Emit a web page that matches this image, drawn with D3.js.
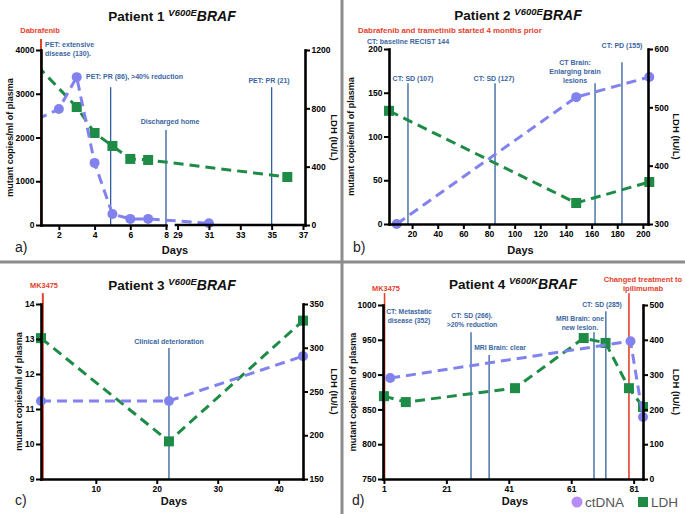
<!DOCTYPE html>
<html><head><meta charset="utf-8">
<script src="https://cdn.jsdelivr.net/npm/d3@7"></script>
<style>
body{margin:0;background:#fff;}
svg{display:block;}
</style></head><body>
<svg id="c" width="685" height="514"></svg>
<script>
// ---------------- DATA ----------------
const seriesNames = ["ctDNA", "LDH"];
const axisTitles = ["mutant copies/ml of plasma", "LDH (IU/L)", "Days"];

// Patient 1 (V600E)
const p1CtDays  = [0.8, 2, 3, 4, 5, 6, 7, 31];
const p1CtVals  = [2420, 2650, 3380, 1420, 250, 140, 140, 40];
const p1LdhDays = [0.8, 3, 4, 5, 6, 7, 36];
const p1LdhVals = [1090, 809, 631, 542, 453, 446, 329];
const p1XTicks  = [2, 4, 6, 8, 29, 31, 33, 35, 37];
const p1YTicks  = [0, 1000, 2000, 3000, 4000];
const p1RTicks  = [0, 400, 800, 1200];
const p1EventDays = [4.9, 8, 35];
const p1EventTops = [3150, 2170, 3150];
const p1TherapyDays = [1];
const p1TherapyTops = [4250];

// Patient 2 (V600E)
const p2CtDays  = [8, 148, 205];
const p2CtVals  = [0, 145, 168];
const p2LdhDays = [2, 148, 205];
const p2LdhVals = [494, 336, 372];
const p2XTicks  = [20, 40, 60, 80, 100, 120, 140, 160, 180, 200];
const p2YTicks  = [0, 50, 100, 150, 200];
const p2RTicks  = [300, 400, 500, 600];
const p2EventDays = [16.8, 84.7, 162.7, 183.7];
const p2EventTops = [161, 161, 161, 185];

// Patient 3 (V600E)
const p3CtDays  = [1, 22, 44];
const p3CtVals  = [11.23, 11.23, 12.51];
const p3LdhDays = [1, 22, 44];
const p3LdhVals = [311, 193, 331];
const p3XTicks  = [10, 20, 30, 40];
const p3YTicks  = [9, 10, 11, 12, 13, 14];
const p3RTicks  = [150, 200, 250, 300, 350];
const p3EventDays = [22];
const p3EventTops = [12.74];
const p3TherapyDays = [1.3];
const p3TherapyTops = [14.31];

// Patient 4 (V600K)
const p4CtDays  = [3, 80, 84];
const p4CtVals  = [895, 948, 839];
const p4LdhDays = [1, 8, 43, 65, 72, 79.5, 84];
const p4LdhVals = [238, 221, 261, 405, 391, 261, 207];
const p4XTicks  = [1, 21, 41, 61, 81];
const p4YTicks  = [750, 800, 850, 900, 950, 1000];
const p4RTicks  = [0, 100, 200, 300, 400, 500];
const p4EventDays = [28.9, 34.7, 68.3, 72.1];
const p4EventTops = [961, 928, 961, 991];
const p4TherapyDays = [1.2, 79.5];
const p4TherapyTops = [1017, 1017];

// ---------------- STYLE ----------------
const FONT = "'Liberation Sans', Arial, Helvetica, sans-serif";
const C = {ct:"#8282ef", ctLegend:"#b58df5", ldh:"#1e8b47", ev:"#2f5f9c",
           evText:"#3a66a2", red:"#e4412b", sep:"#8c8c8c"};

const svg = d3.select("#c").attr("font-family", FONT);

// separators
svg.append("line").attr("x1",342).attr("x2",342).attr("y1",0).attr("y2",514)
   .attr("stroke",C.sep).attr("stroke-width",3);
svg.append("line").attr("x1",0).attr("x2",685).attr("y1",262).attr("y2",262)
   .attr("stroke",C.sep).attr("stroke-width",3);

// ---------------- HELPERS ----------------
function styleAxis(a){
  a.attr("font-family",FONT).attr("font-size",8.5).attr("font-weight","bold");
  a.select(".domain").attr("stroke","#000").attr("stroke-width",2.6).attr("stroke-linecap","square");
  a.selectAll(".tick line").attr("stroke","#000").attr("stroke-width",2);
  a.selectAll(".tick text").attr("fill","#000");
}
function axL(g, y, x, ticks){
  styleAxis(g.append("g").attr("transform",`translate(${x},0)`)
    .call(d3.axisLeft(y).tickValues(ticks).tickSize(5).tickSizeOuter(0).tickPadding(1.5).tickFormat(d3.format("d"))));
}
function axR(g, y, x, ticks){
  styleAxis(g.append("g").attr("transform",`translate(${x},0)`)
    .call(d3.axisRight(y).tickValues(ticks).tickSize(5).tickSizeOuter(0).tickPadding(1.5).tickFormat(d3.format("d"))));
}
function axB(g, x, y, ticks){
  styleAxis(g.append("g").attr("transform",`translate(0,${y})`)
    .call(d3.axisBottom(x).tickValues(ticks).tickSize(5).tickSizeOuter(0).tickPadding(2).tickFormat(d3.format("d"))));
}
function vlines(g, xf, yL, days, tops, y1, color, w){
  g.selectAll(null).data(days.map((d,i)=>[d,tops[i]])).join("line")
    .attr("x1",d=>xf(d[0])).attr("x2",d=>xf(d[0]))
    .attr("y1",d=>yL(d[1])).attr("y2",y1)
    .attr("stroke",color).attr("stroke-width",w);
}
function series(g, xf, y, days, vals, kind, minDay, clipId){
  const pts = days.map((d,i)=>({d, x:xf(d), y:y(vals[i])}));
  const col = kind==="ct" ? C.ct : C.ldh;
  const p = g.append("path").attr("d", d3.line().x(p=>p.x).y(p=>p.y)(pts))
    .attr("fill","none").attr("stroke",col).attr("stroke-width",3).attr("stroke-dasharray","10,6");
  if (clipId) p.attr("clip-path",`url(#${clipId})`);
  const vis = pts.filter(p=>p.d>=minDay);
  if (kind==="ct"){
    g.selectAll(null).data(vis).join("circle").attr("cx",p=>p.x).attr("cy",p=>p.y).attr("r",5).attr("fill",col);
  } else {
    g.selectAll(null).data(vis).join("rect").attr("x",p=>p.x-5).attr("y",p=>p.y-5)
      .attr("width",10).attr("height",10).attr("fill",col);
  }
}
function note(g, x, y, lines, anchor, color, size, lh){
  const t = g.append("text").attr("x",x).attr("y",y).attr("text-anchor",anchor)
    .attr("fill",color).attr("font-size",size).attr("font-weight","bold");
  lines.forEach((s,i)=>t.append("tspan").attr("x",x).attr("dy",i?lh:0).text(s));
}
function title(g, cx, y, num, mut){
  const t = g.append("text").attr("x",cx).attr("y",y).attr("text-anchor","middle")
    .attr("font-weight","bold").attr("fill","#111");
  t.append("tspan").attr("font-size",13.5).text("Patient " + num + " ");
  t.append("tspan").attr("font-size",9.5).attr("font-style","italic").attr("dy",-5).text(mut);
  t.append("tspan").attr("font-size",14).attr("font-style","italic").attr("dy",5).text("BRAF");
}
function frameLabels(g, plot, lx, rx, daysY, letter, letterX, letterY){
  const cy = (plot.y0+plot.y1)/2;
  g.append("text").attr("transform",`translate(${lx},${cy}) rotate(-90)`).attr("text-anchor","middle")
    .attr("font-size",9).attr("font-weight","bold").attr("fill","#111").text(axisTitles[0]);
  g.append("text").attr("transform",`translate(${rx},${cy}) rotate(90)`).attr("text-anchor","middle")
    .attr("font-size",9.5).attr("font-weight","bold").attr("fill","#111").text(axisTitles[1]);
  g.append("text").attr("x",(plot.x0+plot.x1)/2+2).attr("y",daysY).attr("text-anchor","middle")
    .attr("font-size",11).attr("font-weight","bold").attr("fill","#111").text(axisTitles[2]);
  g.append("text").attr("x",letterX).attr("y",letterY).attr("font-size",14).attr("fill","#222").text(letter);
}

// ---------------- PANEL 1 ----------------
{
  const g = svg.append("g");
  const plot = {x0:41, x1:305, y0:50, y1:225};
  const xA = d3.scaleLinear().domain([1,8]).range([41,166]);
  const xB = d3.scaleLinear().domain([28.9,37]).range([176,303]);
  const xf = d => d <= 18 ? xA(d) : xB(d);
  const yL = d3.scaleLinear().domain([0,4000]).range([plot.y1, plot.y0]);
  const yR = d3.scaleLinear().domain([0,1200]).range([plot.y1, plot.y0]);
  svg.append("clipPath").attr("id","clip1").append("rect")
    .attr("x",plot.x0).attr("y",0).attr("width",685-plot.x0).attr("height",262);
  vlines(g, xf, yL, p1EventDays, p1EventTops, plot.y1, C.ev, 1.3);
  vlines(g, xf, yL, p1TherapyDays, p1TherapyTops, plot.y1, C.red, 2);
  series(g, xf, yR, p1LdhDays, p1LdhVals, "ldh", 1, "clip1");
  series(g, xf, yL, p1CtDays, p1CtVals, "ct", 1, "clip1");
  axL(g, yL, plot.x0, p1YTicks);
  axR(g, yR, plot.x1, p1RTicks);
  axB(g, xA, plot.y1, p1XTicks.filter(d=>d<=8));
  const gb = g.append("g").attr("transform",`translate(0,${plot.y1})`)
    .call(d3.axisBottom(xB).tickValues(p1XTicks.filter(d=>d>8)).tickSize(5).tickSizeOuter(0).tickPadding(2).tickFormat(d3.format("d")));
  styleAxis(gb);
  gb.select(".domain").attr("d","M176,0H305");
  title(g, 172, 21, 1, "V600E");
  note(g, 40, 33, ["Dabrafenib"], "middle", C.red, 7.6, 0);
  note(g, 45, 47, ["PET: extensive","disease (130)."], "start", C.evText, 7, 9);
  note(g, 86, 79, ["PET: PR (86), >40% reduction"], "start", C.evText, 7, 0);
  note(g, 170, 124, ["Discharged home"], "middle", C.evText, 7, 0);
  note(g, 269, 83, ["PET: PR (21)"], "middle", C.evText, 7, 0);
  frameLabels(g, plot, 13, 331, 254, "a)", 15, 252);
}

// ---------------- PANEL 2 ----------------
{
  const g = svg.append("g");
  const plot = {x0:389, x1:648, y0:49, y1:224};
  const x = d3.scaleLinear().domain([2,204]).range([plot.x0, plot.x1]);
  const yL = d3.scaleLinear().domain([0,200]).range([plot.y1, plot.y0]);
  const yR = d3.scaleLinear().domain([300,600]).range([plot.y1, plot.y0]);
  vlines(g, x, yL, p2EventDays, p2EventTops, plot.y1, C.ev, 1.3);
  series(g, x, yR, p2LdhDays, p2LdhVals, "ldh", 0, null);
  series(g, x, yL, p2CtDays, p2CtVals, "ct", 0, null);
  axL(g, yL, plot.x0, p2YTicks);
  axR(g, yR, plot.x1, p2RTicks);
  axB(g, x, plot.y1, p2XTicks);
  title(g, 518, 20, 2, "V600E");
  note(g, 358, 33, ["Dabrafenib and trametinib started 4 months prior"], "start", C.red, 7.9, 0);
  note(g, 367, 44, ["CT: baseline RECIST 144"], "start", C.evText, 7, 0);
  note(g, 413, 81, ["CT: SD (107)"], "middle", C.evText, 7, 0);
  note(g, 494, 81, ["CT: SD (127)"], "middle", C.evText, 7, 0);
  note(g, 575, 65, ["CT Brain:","Enlarging brain","lesions"], "middle", C.evText, 7, 9);
  note(g, 622, 48, ["CT: PD (155)"], "middle", C.evText, 7, 0);
  frameLabels(g, plot, 354, 673, 254, "b)", 353, 252);
}

// ---------------- PANEL 3 ----------------
{
  const g = svg.append("g");
  const plot = {x0:41, x1:303, y0:304, y1:479};
  const x = d3.scaleLinear().domain([1,44]).range([plot.x0, plot.x1]);
  const yL = d3.scaleLinear().domain([9,14]).range([plot.y1, plot.y0]);
  const yR = d3.scaleLinear().domain([150,350]).range([plot.y1, plot.y0]);
  vlines(g, x, yL, p3EventDays, p3EventTops, plot.y1, C.ev, 1.3);
  vlines(g, x, yL, p3TherapyDays, p3TherapyTops, plot.y1, C.red, 2);
  series(g, x, yR, p3LdhDays, p3LdhVals, "ldh", 0, null);
  series(g, x, yL, p3CtDays, p3CtVals, "ct", 0, null);
  axL(g, yL, plot.x0, p3YTicks);
  axR(g, yR, plot.x1, p3RTicks);
  axB(g, x, plot.y1, p3XTicks);
  title(g, 172, 290, 3, "V600E");
  note(g, 44, 288, ["MK3475"], "middle", C.red, 7.4, 0);
  note(g, 169, 344, ["Clinical deterioration"], "middle", C.evText, 7, 0);
  frameLabels(g, plot, 22, 331, 505, "c)", 15, 505);
}

// ---------------- PANEL 4 ----------------
{
  const g = svg.append("g");
  const plot = {x0:383, x1:643, y0:305, y1:479};
  const x = d3.scaleLinear().domain([0.7,84]).range([plot.x0, plot.x1]);
  const yL = d3.scaleLinear().domain([750,1000]).range([plot.y1, plot.y0]);
  const yR = d3.scaleLinear().domain([0,500]).range([plot.y1, plot.y0]);
  vlines(g, x, yL, p4EventDays, p4EventTops, plot.y1, C.ev, 1.3);
  vlines(g, x, yL, p4TherapyDays, p4TherapyTops, plot.y1, C.red, 1.6);
  series(g, x, yR, p4LdhDays, p4LdhVals, "ldh", 0, null);
  series(g, x, yL, p4CtDays, p4CtVals, "ct", 0, null);
  axL(g, yL, plot.x0, p4YTicks);
  axR(g, yR, plot.x1, p4RTicks);
  axB(g, x, plot.y1, p4XTicks);
  title(g, 513, 289, 4, "V600K");
  note(g, 386, 291, ["MK3475"], "middle", C.red, 7.4, 0);
  note(g, 643, 282, ["Changed treatment to","ipilimumab"], "middle", C.red, 7.6, 9);
  note(g, 409, 314, ["CT: Metastatic","disease (352)"], "middle", C.evText, 6.8, 8.5);
  note(g, 472, 318, ["CT: SD (266).",">20% reduction"], "middle", C.evText, 6.8, 8.5);
  note(g, 500, 350, ["MRI Brain: clear"], "middle", C.evText, 6.8, 0);
  note(g, 580, 321, ["MRI Brain: one","new lesion."], "middle", C.evText, 6.8, 8.5);
  note(g, 602, 307, ["CT: SD (285)"], "middle", C.evText, 6.8, 0);
  frameLabels(g, plot, 356, 673, 505, "d)", 352, 505);

  // legend
  const lg = svg.append("g").attr("font-family",FONT);
  lg.append("circle").attr("cx",577).attr("cy",502).attr("r",5.5).attr("fill",C.ctLegend);
  lg.append("text").attr("x",585).attr("y",507).attr("font-size",13.5).attr("fill","#555").text(seriesNames[0]);
  lg.append("rect").attr("x",638).attr("y",497).attr("width",10).attr("height",10).attr("fill",C.ldh);
  lg.append("text").attr("x",651).attr("y",507).attr("font-size",13.5).attr("fill","#555").text(seriesNames[1]);
}
</script>
</body></html>
